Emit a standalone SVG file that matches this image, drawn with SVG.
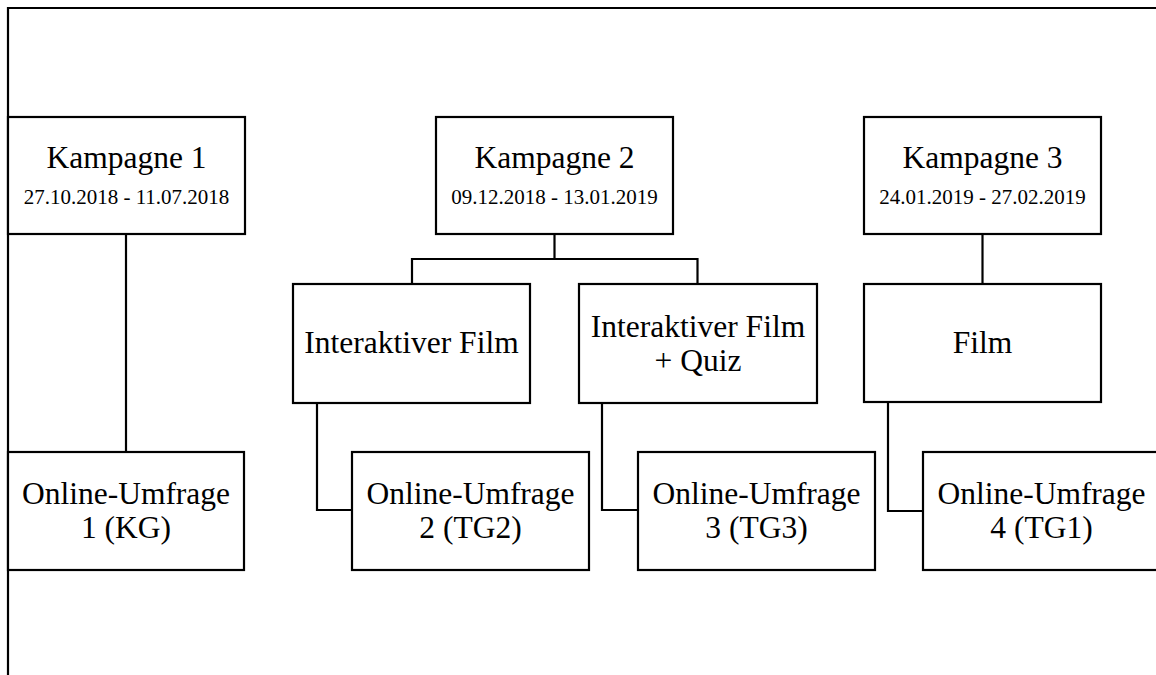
<svg xmlns="http://www.w3.org/2000/svg" width="1156" height="675" viewBox="0 0 1156 675">
<style>
.box{fill:#fff;stroke:#000;stroke-width:2.2}
.ln{fill:none;stroke:#000;stroke-width:2.2}
</style>
<rect width="1156" height="675" fill="#fff"/>
<g id="frame"><path class="ln" d="M8,675 V8 H1156"/></g>
<g id="connectors">
<path class="ln" d="M126,234 V452"/>
<path class="ln" d="M554.5,234 V259 M412,284 V259 H697.5 V284"/>
<path class="ln" d="M317,403 V510 H352"/>
<path class="ln" d="M602,403 V510 H638"/>
<path class="ln" d="M982.5,234 V284"/>
<path class="ln" d="M888,402 V511 H923"/>
</g>
<g font-family="Liberation Serif, DejaVu Serif, serif" fill="#000" text-anchor="middle">
<g id="k1"><rect class="box" x="8" y="117" width="237" height="117"/><text font-size="31.5" x="126.5" y="168">Kampagne 1</text><text font-size="21" x="126.5" y="204">27.10.2018 - 11.07.2018</text></g>
<g id="k2"><rect class="box" x="436" y="117" width="237" height="117"/><text font-size="31.5" x="554.5" y="168">Kampagne 2</text><text font-size="21" x="554.5" y="204">09.12.2018 - 13.01.2019</text></g>
<g id="k3"><rect class="box" x="864" y="117" width="237" height="117"/><text font-size="31.5" x="982.5" y="168">Kampagne 3</text><text font-size="21" x="982.5" y="204">24.01.2019 - 27.02.2019</text></g>
<g id="if"><rect class="box" x="293" y="284" width="237" height="119"/><text font-size="31.5" x="411.5" y="353">Interaktiver Film</text></g>
<g id="ifq"><rect class="box" x="579" y="284" width="238" height="119"/><text font-size="31.5" x="698" y="337">Interaktiver Film</text><text font-size="31.5" x="698" y="371">+ Quiz</text></g>
<g id="film"><rect class="box" x="864" y="284" width="237" height="118"/><text font-size="31.5" x="982.5" y="353">Film</text></g>
<g id="u1"><rect class="box" x="8" y="452" width="236" height="118"/><text font-size="31.5" x="126" y="504">Online-Umfrage</text><text font-size="31.5" x="126" y="538">1 (KG)</text></g>
<g id="u2"><rect class="box" x="352" y="452" width="237" height="118"/><text font-size="31.5" x="470.5" y="504">Online-Umfrage</text><text font-size="31.5" x="470.5" y="538">2 (TG2)</text></g>
<g id="u3"><rect class="box" x="638" y="452" width="237" height="118"/><text font-size="31.5" x="756.5" y="504">Online-Umfrage</text><text font-size="31.5" x="756.5" y="538">3 (TG3)</text></g>
<g id="u4"><rect class="box" x="923" y="452" width="237" height="118"/><text font-size="31.5" x="1041.5" y="504">Online-Umfrage</text><text font-size="31.5" x="1041.5" y="538">4 (TG1)</text></g>
</g>
</svg>
